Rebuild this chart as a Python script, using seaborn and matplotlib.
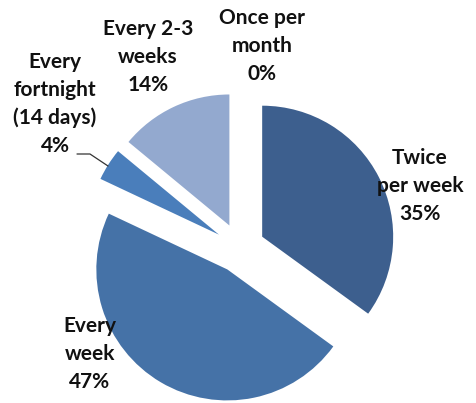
import matplotlib
matplotlib.use("Agg")
import matplotlib.pyplot as plt
import seaborn as sns

categories = ["Twice per week", "Every week", "Every fortnight (14 days)",
              "Every 2-3 weeks", "Once per month"]
shares = [35, 47, 4, 14, 0]
label_texts = ["Twice\nper week\n35%", "Every\nweek\n47%",
               "Every\nfortnight\n(14 days)\n4%", "Every 2-3\nweeks\n14%",
               "Once per\nmonth\n0%"]
colors = ["#3D5F8E", "#4572A7", "#4A7EBB", "#93A9CF", "#B9C7E0"]

sns.set_theme(style="white")
plt.rcParams["font.family"] = ["Lato", "DejaVu Sans"]

W, H = 476, 403
fig = plt.figure(figsize=(W / 100, H / 100), dpi=100)
ax = fig.add_axes([0, 0, 1, 1])

R = 131.0          # pie radius in pixels
CX, CY = 240.0, 248.0  # pie centre in pixels (from top-left)


def px(x, y):
    """Pixel position (from top-left) to data coordinates."""
    return (x - CX) / R, (CY - y) / R


ax.pie(shares, colors=colors, startangle=90, counterclock=False,
       explode=[0.19] * len(shares), radius=1.0,
       wedgeprops=dict(linewidth=0))

ax.set_xlim((0 - CX) / R, (W - CX) / R)
ax.set_ylim((CY - H) / R, CY / R)
ax.set_aspect("auto")
ax.axis("off")

# label blocks: centre positions in pixels
label_pos = [(420, 186), (90, 354), (55, 104), (148, 57), (262, 46)]
for txt, (x, y) in zip(label_texts, label_pos):
    ax.text(*px(x, y), txt, ha="center", va="center", multialignment="center",
            fontsize=15, fontweight="bold", color="#111111", linespacing=1.5)

# leader line for the small fortnight slice
lx, ly = zip(px(77, 154), px(90, 154), px(108, 166))
ax.plot(lx, ly, color="#333333", linewidth=0.9)

fig.savefig("out.png", dpi=100, facecolor="white")
